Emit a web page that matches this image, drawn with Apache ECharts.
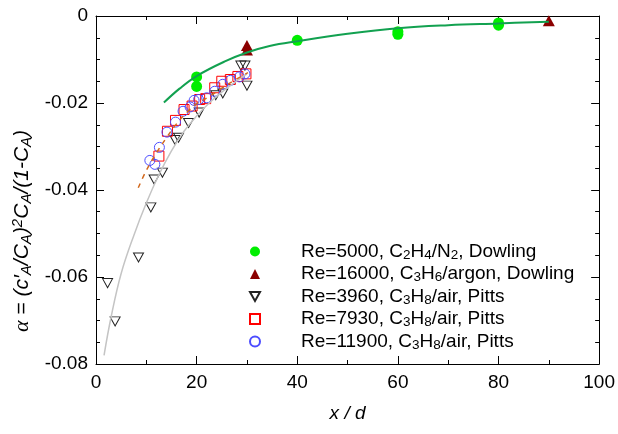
<!DOCTYPE html>
<html><head><meta charset="utf-8">
<script src="https://cdn.jsdelivr.net/npm/echarts@6/dist/echarts.min.js"></script>
<style>html,body{margin:0;padding:0;background:#fff}#c{width:618px;height:434px}</style>
</head><body><div id="c"></div>
<script>
// ---- data ----
const xTickLabels = ['0','20','40','60','80','100'];
const yTickLabels = ['-0.08','-0.06','-0.04','-0.02','0'];

const re5000X = [20, 20, 40, 60, 60, 80, 80];
const re5000Y = [-0.0140, -0.0162, -0.0056, -0.0036, -0.0042, -0.0016, -0.0021];

const re16000X = [30, 30, 90];
const re16000Y = [-0.0068, -0.0078, -0.0011];

const re3960X = [2.3, 3.8, 8.45, 10.9, 11.55, 13.2, 15.7, 16.4, 18.4, 20.5, 23.8, 25.2, 28.8, 29.6, 30.0];
const re3960Y = [-0.0614, -0.0702, -0.0555, -0.0440, -0.0376, -0.0360, -0.0285, -0.0280, -0.0246, -0.0222, -0.0182, -0.0178, -0.0114, -0.0114, -0.0160];

const re7930X = [12.5, 14.2, 15.8, 17.5, 19.1, 20.6, 21.8, 23.6, 25.0, 26.7, 28.2, 29.8];
const re7930Y = [-0.0322, -0.0265, -0.0240, -0.0215, -0.0207, -0.0192, -0.0190, -0.0165, -0.0150, -0.0146, -0.0139, -0.0133];

const re11900X = [10.7, 11.7, 12.6, 14.1, 15.8, 17.3, 18.7, 19.5, 20.4, 22.0, 23.6, 25.2, 26.7, 28.5, 29.6];
const re11900Y = [-0.0332, -0.0341, -0.0302, -0.0267, -0.0244, -0.0219, -0.0209, -0.0194, -0.0192, -0.0188, -0.0173, -0.0157, -0.0148, -0.0140, -0.0133];

const fitGreenX = [13.5, 16.6, 20, 25.5, 30, 34.5, 40, 50, 60, 70, 80, 90];
const fitGreenY = [-0.0199, -0.0167, -0.0138, -0.0105, -0.0084, -0.0069, -0.0058, -0.0041, -0.0028, -0.0021, -0.0017, -0.0013];

const fitGreyX = [1.6, 3, 5, 7.5, 10, 12.5, 15, 17.5, 20, 22.5, 25, 27.5, 30];
const fitGreyY = [-0.0780, -0.0692, -0.0592, -0.0505, -0.0430, -0.0365, -0.0310, -0.0265, -0.0230, -0.0200, -0.0175, -0.0153, -0.0133];

const fitOrangeX = [8.4, 10, 12, 14, 16, 18, 20, 22.5, 25, 27.5, 30.2];
const fitOrangeY = [-0.0395, -0.0355, -0.0315, -0.0280, -0.0248, -0.0222, -0.0202, -0.0185, -0.0166, -0.0148, -0.0130];

const seriesNames = [
  'Re=5000, C2H4/N2, Dowling',
  'Re=16000, C3H6/argon, Dowling',
  'Re=3960, C3H8/air, Pitts',
  'Re=7930, C3H8/air, Pitts',
  'Re=11900, C3H8/air, Pitts'
];
const seriesRichNames = [
  '{n|Re=5000, C}{s|2}{n|H}{s|4}{n|/N}{s|2}{n|, Dowling}',
  '{n|Re=16000, C}{s|3}{n|H}{s|6}{n|/argon, Dowling}',
  '{n|Re=3960, C}{s|3}{n|H}{s|8}{n|/air, Pitts}',
  '{n|Re=7930, C}{s|3}{n|H}{s|8}{n|/air, Pitts}',
  '{n|Re=11900, C}{s|3}{n|H}{s|8}{n|/air, Pitts}'
];

// ---- chart ----
const zip = (xs, ys) => xs.map((x, i) => [x, ys[i]]);
const FONT = 'Liberation Sans';
const chart = echarts.init(document.getElementById('c'), null, {renderer: 'canvas'});

const axisCommon = {
  axisLine: {show: true, onZero: false, lineStyle: {color: '#000', width: 1}},
  axisTick: {show: true, inside: true, length: 8, lineStyle: {color: '#000', width: 1}},
  minorTick: {show: true, length: 4, lineStyle: {color: '#000', width: 1}},
  splitLine: {show: false},
  minorSplitLine: {show: false}
};

const option = {
  animation: false,
  backgroundColor: '#fff',
  grid: {left: 96, right: 17, top: 16, bottom: 70, containLabel: false},
  xAxis: [
    Object.assign({}, axisCommon, {
      type: 'value', position: 'bottom', min: 0, max: 100, interval: 20,
      minorTick: Object.assign({}, axisCommon.minorTick, {splitNumber: 2}),
      axisLabel: {show: true, margin: 9, color: '#000', fontSize: 19, fontFamily: FONT,
        formatter: (v) => xTickLabels[Math.round(v / 20)]},
      name: 'x / d', nameLocation: 'middle', nameGap: 40,
      nameTextStyle: {color: '#000', fontSize: 19, fontFamily: FONT, fontStyle: 'italic'}
    }),
    Object.assign({}, axisCommon, {
      type: 'value', position: 'top', min: 0, max: 100, interval: 20,
      minorTick: Object.assign({}, axisCommon.minorTick, {splitNumber: 2}),
      axisLabel: {show: false}
    })
  ],
  yAxis: [
    Object.assign({}, axisCommon, {
      type: 'value', position: 'left', min: -0.08, max: 0, interval: 0.02,
      minorTick: Object.assign({}, axisCommon.minorTick, {splitNumber: 4}),
      axisLabel: {show: true, margin: 8, color: '#000', fontSize: 19, fontFamily: FONT,
        formatter: (v) => yTickLabels[Math.round((v + 0.08) / 0.02)]}
    }),
    Object.assign({}, axisCommon, {
      type: 'value', position: 'right', min: -0.08, max: 0, interval: 0.02,
      minorTick: Object.assign({}, axisCommon.minorTick, {splitNumber: 4}),
      axisLabel: {show: false}
    })
  ],
  legend: {
    show: true,
    orient: 'vertical',
    left: 249, top: 242,
    itemWidth: 10, itemHeight: 10, itemGap: 2.5,
    padding: 0,
    selectedMode: false,
    data: seriesNames,
    formatter: (name) => seriesRichNames[seriesNames.indexOf(name)],
    textStyle: {
      padding: [0, 0, 0, 36],
      rich: {
        n: {fontSize: 19, fontFamily: FONT, color: '#000', lineHeight: 21},
        s: {fontSize: 13.5, fontFamily: FONT, color: '#000', lineHeight: 6, verticalAlign: 'bottom'}
      }
    }
  },
  graphic: [{
    type: 'text', x: 22, y: 231, rotation: Math.PI / 2,
    style: {
      align: 'center', verticalAlign: 'middle',
      text: '{a|α}{t| = (c′}{s|A}{t|/C}{s|A}{t|)}{u|2}{t|C}{s|A}{t|/(1-C}{s|A}{t|)}',
      rich: {
        a: {fontSize: 22, fontFamily: 'Liberation Serif', fontStyle: 'italic', fill: '#000', lineHeight: 24},
        t: {fontSize: 21, fontFamily: FONT, fontStyle: 'italic', fill: '#000', lineHeight: 24},
        s: {fontSize: 15, fontFamily: FONT, fontStyle: 'italic', fill: '#000', lineHeight: 6, verticalAlign: 'bottom'},
        u: {fontSize: 15, fontFamily: FONT, fontStyle: 'italic', fill: '#000', lineHeight: 6, verticalAlign: 'top'}
      }
    }
  }],
  series: [
    {name: seriesNames[0], type: 'scatter', data: zip(re5000X, re5000Y),
      symbol: 'circle', symbolSize: 11,
      itemStyle: {color: '#00ee00', opacity: 1}},
    {name: seriesNames[1], type: 'scatter', data: zip(re16000X, re16000Y),
      symbol: 'triangle', symbolSize: [12, 11],
      itemStyle: {color: '#8b0000', opacity: 1}},
    {name: seriesNames[2], type: 'scatter', data: zip(re3960X, re3960Y),
      symbol: 'path://M0,0L10,0L5,9Z', symbolSize: [10, 9],
      itemStyle: {color: 'rgba(0,0,0,0)', borderColor: '#222', borderWidth: 1, opacity: 1}},
    {name: seriesNames[3], type: 'scatter', data: zip(re7930X, re7930Y),
      symbol: 'rect', symbolSize: 10,
      itemStyle: {color: 'rgba(0,0,0,0)', borderColor: '#ff0000', borderWidth: 1, opacity: 1}},
    {name: seriesNames[4], type: 'scatter', data: zip(re11900X, re11900Y),
      symbol: 'circle', symbolSize: 10,
      itemStyle: {color: 'rgba(0,0,0,0)', borderColor: '#4d4dff', borderWidth: 1, opacity: 1}},
    {name: 'fit-green', type: 'line', data: zip(fitGreenX, fitGreenY), showSymbol: false,
      smooth: 0.4, lineStyle: {color: '#12a150', width: 2}},
    {name: 'fit-grey', type: 'line', data: zip(fitGreyX, fitGreyY), showSymbol: false,
      smooth: 0.4, lineStyle: {color: '#c4c4c4', width: 1.5}},
    {name: 'fit-orange', type: 'line', data: zip(fitOrangeX, fitOrangeY), showSymbol: false,
      smooth: 0.4, lineStyle: {color: '#d2691e', width: 1.5, type: [5, 5]}}
  ]
};
chart.setOption(option);
</script>
</body></html>
